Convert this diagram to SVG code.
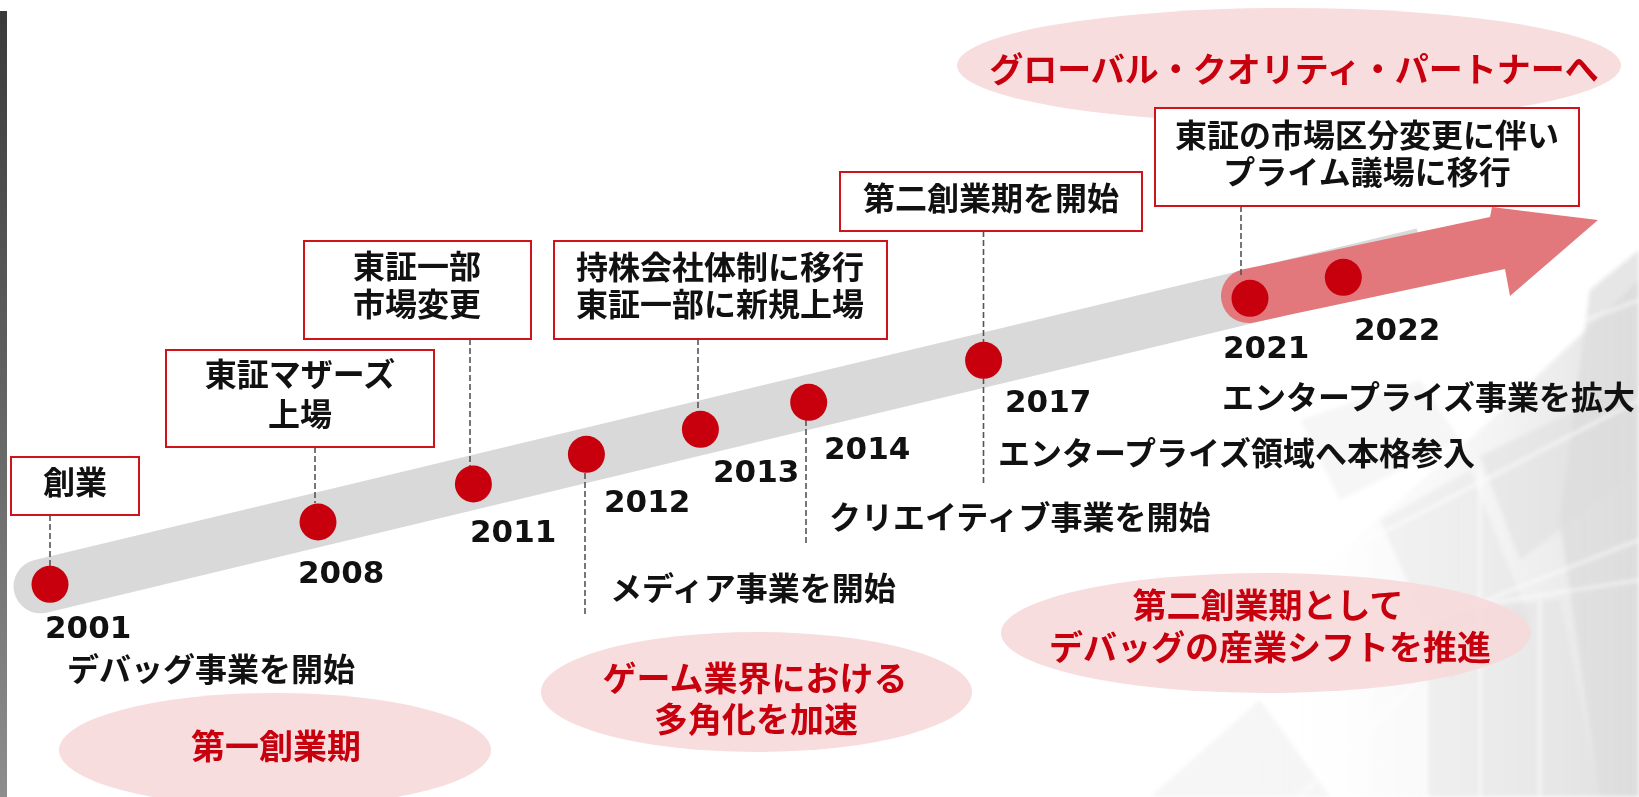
<svg xmlns="http://www.w3.org/2000/svg" width="1639" height="797" viewBox="0 0 1639 797">
<defs>
<linearGradient id="barG" x1="0" y1="0" x2="0" y2="1">
<stop offset="0" stop-color="#3a3a3a"/>
<stop offset="1" stop-color="#8e8e8e"/>
</linearGradient>
<linearGradient id="bgG" x1="0" y1="0" x2="1" y2="0">
<stop offset="0" stop-color="#ffffff" stop-opacity="0"/>
<stop offset="1" stop-color="#d4d4d4" stop-opacity="0.7"/>
</linearGradient>
<filter id="soft" x="-10%" y="-10%" width="120%" height="120%">
<feGaussianBlur stdDeviation="2"/>
</filter>
<style>
.jp{font-family:"Noto Sans CJK JP","Noto Sans CJK SC",sans-serif;font-weight:700;font-size:32px;fill:#111}
.red{font-family:"Noto Sans CJK JP","Noto Sans CJK SC",sans-serif;font-weight:700;font-size:34px;fill:#c8000e;text-anchor:middle}
.yr{font-family:"DejaVu Sans",sans-serif;font-weight:700;font-size:31px;fill:#111}
.mid{text-anchor:middle}
.box{fill:#fff;stroke:#d0121b;stroke-width:2}
.pink{fill:#f6d9da;opacity:0.9}
.dash{stroke:#555;stroke-width:1.6;stroke-dasharray:6 3;fill:none}
.dot{fill:#c8000e}
.shard{fill:#dcdcdc}
.wl{stroke:#fff;stroke-width:2;fill:none;opacity:0.85}
</style>
</defs>
<rect width="1639" height="797" fill="#fff"/>
<g id="background" filter="url(#soft)">
<polygon points="1250,797 1330,560 1480,430 1639,280 1639,797" fill="url(#bgG)"/>
<polygon class="shard" points="1590,290 1639,250 1639,797 1600,797 1560,520" opacity="0.7"/>
<polygon class="shard" points="1480,456 1639,380 1639,470 1520,560" opacity="0.45"/>
<polygon class="shard" points="1380,520 1470,470 1530,620 1450,680" opacity="0.3"/>
<polygon class="shard" points="1427,613 1560,600 1600,797 1427,797" opacity="0.35"/>
<polygon class="shard" points="1150,797 1260,700 1330,797" opacity="0.25"/>
<polygon class="shard" points="1300,420 1420,380 1460,440 1340,500" opacity="0.25"/>
<path class="wl" d="M1330,560 L1639,400 M1427,613 L1427,797 M1480,470 L1480,797 M1540,600 L1540,797 M1427,613 L1639,580 M1360,650 L1639,540 M1560,330 L1639,300 M1300,797 L1420,680"/>
</g>
<rect id="leftbar" x="0" y="11" width="7" height="786" fill="url(#barG)"/>
<g id="ellipses">
<ellipse class="pink" cx="1289" cy="65.5" rx="332" ry="57.5"/>
<ellipse class="pink" cx="275" cy="750" rx="216" ry="57"/>
<ellipse class="pink" cx="756.5" cy="692" rx="215.5" ry="60"/>
<ellipse class="pink" cx="1266" cy="633" rx="265" ry="60"/>
</g>
<g id="timeline">
<path d="M33.7,560.15 L1416.7,228.45 L1429.3,280.95 L46.3,612.65 A27,27 0 0 1 33.7,560.15 Z" fill="#d9d9d9"/>
<path d="M1242.2,269.6 L1490,217 L1492,207 L1598,220 L1510,296 L1505,269 L1253.8,322.4 A27,27 0 0 1 1242.2,269.6 Z" fill="#e2787c"/>
</g>
<g id="connectors">
<line class="dash" x1="50" y1="515" x2="50" y2="566"/>
<line class="dash" x1="315" y1="447" x2="315" y2="503"/>
<line class="dash" x1="470" y1="339" x2="470" y2="466"/>
<line class="dash" x1="585" y1="473" x2="585" y2="615"/>
<line class="dash" x1="698" y1="339" x2="698" y2="411"/>
<line class="dash" x1="806" y1="420" x2="806" y2="543"/>
<line class="dash" x1="983.5" y1="231" x2="983.5" y2="342"/>
<line class="dash" x1="983.5" y1="378" x2="983.5" y2="485"/>
<line class="dash" x1="1241" y1="206" x2="1241" y2="275"/>
</g>
<g id="dots">
<circle class="dot" cx="50" cy="584.3" r="18.5"/>
<circle class="dot" cx="318" cy="522" r="18.5"/>
<circle class="dot" cx="473.4" cy="484" r="18.5"/>
<circle class="dot" cx="586.4" cy="454.3" r="18.5"/>
<circle class="dot" cx="700.4" cy="429.3" r="18.5"/>
<circle class="dot" cx="808.7" cy="402.3" r="18.5"/>
<circle class="dot" cx="983.6" cy="360.3" r="18.5"/>
<circle class="dot" cx="1250" cy="298.3" r="18.5"/>
<circle class="dot" cx="1343.3" cy="277.3" r="18.5"/>
</g>
<g id="node-2001">
<rect class="box" x="11" y="457" width="128" height="58"/>
<text class="jp mid" x="75" y="494">創業</text>
<text class="yr" x="45" y="638">2001</text>
<text class="jp" x="67" y="681">デバッグ事業を開始</text>
</g>
<g id="node-2008">
<rect class="box" x="166" y="350" width="268" height="97"/>
<text class="jp mid" x="300" y="386">東証マザーズ<tspan x="300" dy="40">上場</tspan></text>
<text class="yr" x="298" y="583">2008</text>
</g>
<g id="node-2011">
<rect class="box" x="304" y="241" width="227" height="98"/>
<text class="jp mid" x="417" y="278">東証一部<tspan x="417" dy="38">市場変更</tspan></text>
<text class="yr" x="470" y="542">2011</text>
</g>
<g id="node-2012">
<text class="yr" x="604" y="512">2012</text>
<text class="jp" x="610" y="600">メディア事業を開始</text>
</g>
<g id="node-2013">
<rect class="box" x="554" y="241" width="333" height="98"/>
<text class="jp mid" x="720" y="279">持株会社体制に移行<tspan x="720" dy="37">東証一部に新規上場</tspan></text>
<text class="yr" x="713" y="482">2013</text>
</g>
<g id="node-2014">
<text class="yr" x="824" y="459">2014</text>
<text class="jp" x="829" y="529">クリエイティブ事業を開始</text>
</g>
<g id="node-2017">
<rect class="box" x="840" y="172" width="302" height="59"/>
<text class="jp mid" x="991" y="210">第二創業期を開始</text>
<text class="yr" x="1005" y="412">2017</text>
<text class="jp" x="998" y="465">エンタープライズ領域へ本格参入</text>
</g>
<g id="node-2021">
<rect class="box" x="1155" y="108" width="424" height="98"/>
<text class="jp mid" x="1367" y="147">東証の市場区分変更に伴い<tspan x="1367" dy="37">プライム議場に移行</tspan></text>
<text class="yr" x="1223" y="358">2021</text>
<text class="jp" x="1222" y="409">エンタープライズ事業を拡大</text>
</g>
<g id="node-2022">
<text class="yr" x="1354" y="340">2022</text>
</g>
<g id="phase-labels">
<text class="red" x="1294" y="82">グローバル・クオリティ・パートナーへ</text>
<text class="red" x="276" y="759">第一創業期</text>
<text class="red" x="755" y="691">ゲーム業界における<tspan x="756" dy="41">多角化を加速</tspan></text>
<text class="red" x="1268" y="618">第二創業期として<tspan x="1270" dy="42">デバッグの産業シフトを推進</tspan></text>
</g>
</svg>
